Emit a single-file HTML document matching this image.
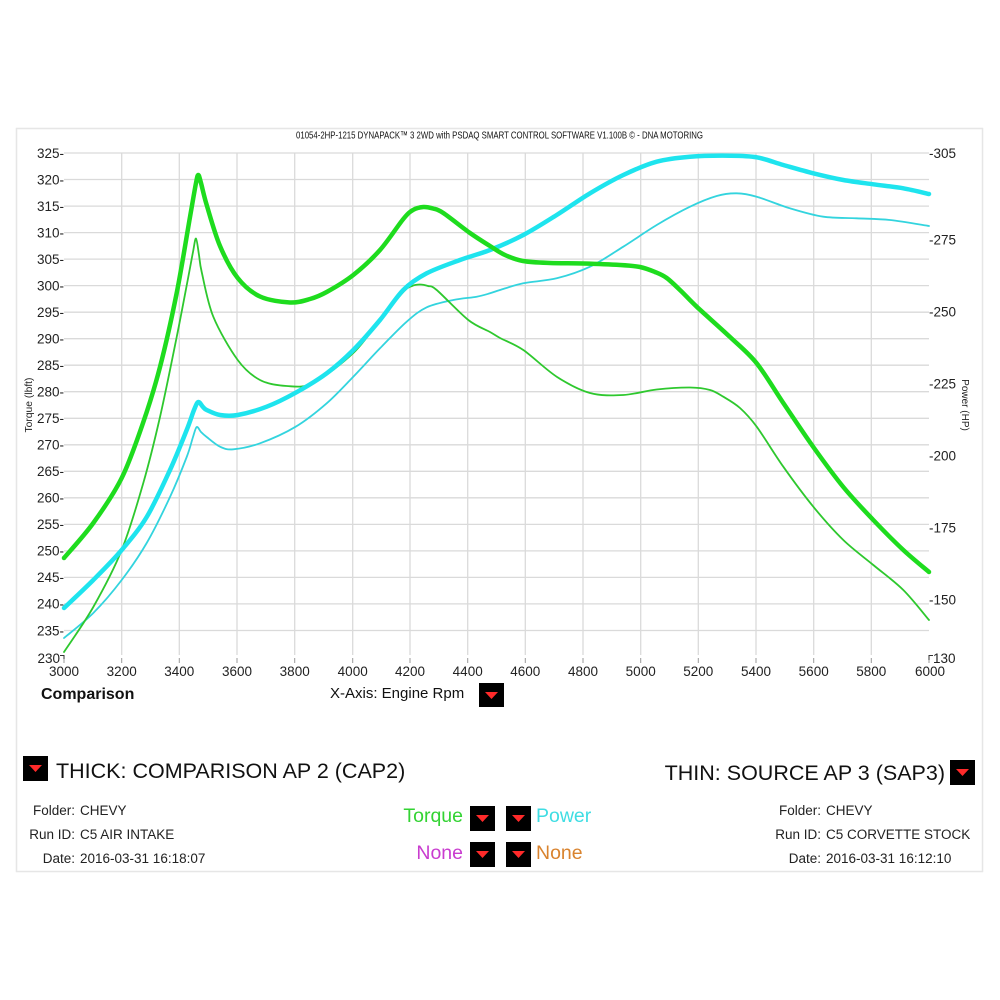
<!DOCTYPE html>
<html>
<head>
<meta charset="utf-8">
<style>
html,body{margin:0;padding:0;background:#fff;}
svg{display:block;}
text{font-family:"Liberation Sans",Arial,sans-serif;}
</style>
</head>
<body>
<svg id="chart" width="1000" height="1000" viewBox="0 0 1000 1000" xmlns="http://www.w3.org/2000/svg">
<rect x="0" y="0" width="1000" height="1000" fill="#fff"/>
<!-- panel border -->
<rect x="16.5" y="128.5" width="966" height="743" fill="none" stroke="#e6e6e6" stroke-width="1.5"/>

<!-- title -->
<text x="296" y="138.5" font-size="10.5" textLength="407" lengthAdjust="spacingAndGlyphs" fill="#111">01054-2HP-1215 DYNAPACK™ 3 2WD with PSDAQ SMART CONTROL SOFTWARE V1.100B © - DNA MOTORING</text>

<!-- grid -->
<g stroke="#dadada" stroke-width="1.3" fill="none">
<line x1="64" y1="153" x2="929" y2="153"/>
<line x1="64" y1="179.5" x2="929" y2="179.5"/>
<line x1="64" y1="206.1" x2="929" y2="206.1"/>
<line x1="64" y1="232.6" x2="929" y2="232.6"/>
<line x1="64" y1="259.1" x2="929" y2="259.1"/>
<line x1="64" y1="285.6" x2="929" y2="285.6"/>
<line x1="64" y1="312.2" x2="929" y2="312.2"/>
<line x1="64" y1="338.7" x2="929" y2="338.7"/>
<line x1="64" y1="365.2" x2="929" y2="365.2"/>
<line x1="64" y1="391.7" x2="929" y2="391.7"/>
<line x1="64" y1="418.3" x2="929" y2="418.3"/>
<line x1="64" y1="444.8" x2="929" y2="444.8"/>
<line x1="64" y1="471.3" x2="929" y2="471.3"/>
<line x1="64" y1="497.8" x2="929" y2="497.8"/>
<line x1="64" y1="524.4" x2="929" y2="524.4"/>
<line x1="64" y1="550.9" x2="929" y2="550.9"/>
<line x1="64" y1="577.4" x2="929" y2="577.4"/>
<line x1="64" y1="603.9" x2="929" y2="603.9"/>
<line x1="64" y1="630.5" x2="929" y2="630.5"/>
<line x1="121.7" y1="153" x2="121.7" y2="655"/>
<line x1="179.3" y1="153" x2="179.3" y2="655"/>
<line x1="237" y1="153" x2="237" y2="655"/>
<line x1="294.7" y1="153" x2="294.7" y2="655"/>
<line x1="352.7" y1="153" x2="352.7" y2="655"/>
<line x1="410" y1="153" x2="410" y2="655"/>
<line x1="467.7" y1="153" x2="467.7" y2="655"/>
<line x1="525.3" y1="153" x2="525.3" y2="655"/>
<line x1="583" y1="153" x2="583" y2="655"/>
<line x1="640.7" y1="153" x2="640.7" y2="655"/>
<line x1="698.3" y1="153" x2="698.3" y2="655"/>
<line x1="756" y1="153" x2="756" y2="655"/>
<line x1="813.7" y1="153" x2="813.7" y2="655"/>
<line x1="871.3" y1="153" x2="871.3" y2="655"/>
</g>
<!-- x ticks -->
<g stroke="#999" stroke-width="1">
<line x1="64" y1="658" x2="64" y2="663"/>
<line x1="121.7" y1="658" x2="121.7" y2="663"/>
<line x1="179.3" y1="658" x2="179.3" y2="663"/>
<line x1="237" y1="658" x2="237" y2="663"/>
<line x1="294.7" y1="658" x2="294.7" y2="663"/>
<line x1="352.7" y1="658" x2="352.7" y2="663"/>
<line x1="410" y1="658" x2="410" y2="663"/>
<line x1="467.7" y1="658" x2="467.7" y2="663"/>
<line x1="525.3" y1="658" x2="525.3" y2="663"/>
<line x1="583" y1="658" x2="583" y2="663"/>
<line x1="640.7" y1="658" x2="640.7" y2="663"/>
<line x1="698.3" y1="658" x2="698.3" y2="663"/>
<line x1="756" y1="658" x2="756" y2="663"/>
<line x1="813.7" y1="658" x2="813.7" y2="663"/>
<line x1="871.3" y1="658" x2="871.3" y2="663"/>
<line x1="929" y1="658" x2="929" y2="663"/>
</g>

<!-- left labels -->
<g font-size="13.5" fill="#222" text-anchor="end">
<text x="64" y="158">325-</text>
<text x="64" y="184.5">320-</text>
<text x="64" y="211">315-</text>
<text x="64" y="237.5">310-</text>
<text x="64" y="264">305-</text>
<text x="64" y="290.5">300-</text>
<text x="64" y="317">295-</text>
<text x="64" y="343.5">290-</text>
<text x="64" y="370">285-</text>
<text x="64" y="396.5">280-</text>
<text x="64" y="423">275-</text>
<text x="64" y="449.5">270-</text>
<text x="64" y="476">265-</text>
<text x="64" y="502.5">260-</text>
<text x="64" y="529">255-</text>
<text x="64" y="555.5">250-</text>
<text x="64" y="582">245-</text>
<text x="64" y="608.5">240-</text>
<text x="64" y="635.5">235-</text>
<text x="60" y="663">230</text>
</g>
<path d="M60,655.5 H64 V659" stroke="#333" stroke-width="1" fill="none"/>
<text transform="translate(32,405) rotate(-90)" font-size="10.3" text-anchor="middle" fill="#222">Torque (lbft)</text>

<!-- right labels -->
<g font-size="13.5" fill="#222">
<text x="929" y="158">-305</text>
<text x="929" y="244.5">-275</text>
<text x="929" y="316.5">-250</text>
<text x="929" y="388.5">-225</text>
<text x="929" y="460.5">-200</text>
<text x="929" y="532.5">-175</text>
<text x="929" y="604.5">-150</text>
<text x="933" y="663">130</text>
</g>
<path d="M929,660 V655.5 H933" stroke="#333" stroke-width="1" fill="none"/>
<text transform="translate(962,405) rotate(90)" font-size="10" text-anchor="middle" fill="#222">Power (HP)</text>

<!-- x labels -->
<g font-size="13.5" fill="#222" text-anchor="middle">
<text x="64" y="676">3000</text>
<text x="121.7" y="676">3200</text>
<text x="179.3" y="676">3400</text>
<text x="237" y="676">3600</text>
<text x="294.7" y="676">3800</text>
<text x="352.7" y="676">4000</text>
<text x="410" y="676">4200</text>
<text x="467.7" y="676">4400</text>
<text x="525.3" y="676">4600</text>
<text x="583" y="676">4800</text>
<text x="640.7" y="676">5000</text>
<text x="698.3" y="676">5200</text>
<text x="756" y="676">5400</text>
<text x="813.7" y="676">5600</text>
<text x="871.3" y="676">5800</text>
<text x="930" y="676">6000</text>
</g>

<!-- curves -->
<g id="curves" fill="none" stroke-linejoin="round" stroke-linecap="round">
<polyline class="crv" stroke="#33d4de" stroke-width="1.8" points="64,638 93.3,613 121.7,580 146.7,543 170,497 186.7,457 193,437 196.7,427 201,432 206.7,437 220,446.7 233.3,449.3 260,443.3 295.7,426.7 326.7,403.3 353.3,376.7 380,348.3 406.7,321.7 426.7,307.3 453.3,300 476.7,296.7 490,293.3 500,290 523.3,283.3 556.7,278.3 590,266.7 623.3,246.7 656.7,225 690,206.7 716.7,196 736.7,193.3 756.7,196.7 790,208.3 823.3,216.7 856.7,218.3 890,220 929,226"/>
<polyline class="crv" stroke="#2ec82e" stroke-width="1.8" points="64,652 93.3,607 121.7,550 143.3,483 160,417 176.7,337 188.3,277 193,252 196,238.5 199,255 201.7,272 213.3,316.7 237.7,360 260,380 286.7,386 313.3,383 353.3,353 380,320 403.3,292 412,286 420,284.5 428,286 436.7,290 468.3,320 490,332 500,338 523.3,350 556.7,376.7 590,393 623.3,395 656.7,389.5 690,387.5 710,390 723.3,396.7 740,408 756.7,426.7 783.3,466.7 813.3,506.7 843.3,540 873.3,565 903.3,590 929,620"/>
<polyline class="crv" stroke="#1ee4ee" stroke-width="4.5" points="64,608 93.3,580 121.7,550 146.7,517 170,470 186.7,430 194,410 198.3,402 203,407 206.7,410 220,415 237.7,415 266.7,406.7 295.7,392.7 326.7,373.3 353.3,350 380,320 403.3,290 426.7,273.3 460,260 490,250 523.3,235 556.7,215 590,193.3 623.3,175 656.7,161.7 690,156.7 730,155.7 756.7,157.3 783.3,165 813.3,173.3 843.3,180 873.3,184.3 903.3,188.3 929,194"/>
<polyline class="crv" stroke="#1edc1e" stroke-width="4.5" points="64,558 93.3,523 121.7,478 143,423 160,367 176.7,293 190,217 196,183 198.3,175 201,183 206.7,205 220,246 237.7,278 260,296.5 290,302.5 310,299 326.7,292 353.3,275 380,250 403.3,219 413,210 423.3,207 433,208.5 443.3,213 470,233 490,246 505,255 523,261 550,263 583.3,263.5 620,265 640,267 655,272 666.7,278 681,291 696.7,306.7 730,337 756.7,363.3 783.3,403 813.3,447 843.3,487 873.3,520 903.3,550 929,572"/>
</g>

<!-- bottom labels -->
<text x="41" y="699" font-size="16" font-weight="bold" fill="#111">Comparison</text>
<text x="330" y="698" font-size="15" fill="#111">X-Axis: Engine Rpm</text>

<!-- dropdown icons -->
<g>
<rect x="479" y="683" width="25" height="24" fill="#000"/>
<polygon points="485,692 498,692 491.5,699" fill="#ff2a2a"/>
<rect x="23" y="756" width="25" height="25" fill="#000"/>
<polygon points="29,765 42,765 35.5,772" fill="#ff2a2a"/>
<rect x="950" y="760" width="25" height="25" fill="#000"/>
<polygon points="956,769 969,769 962.5,776" fill="#ff2a2a"/>
<rect x="470" y="806" width="25" height="25" fill="#000"/>
<polygon points="476,815 489,815 482.5,822" fill="#ff2a2a"/>
<rect x="470" y="842" width="25" height="25" fill="#000"/>
<polygon points="476,851 489,851 482.5,858" fill="#ff2a2a"/>
<rect x="506" y="806" width="25" height="25" fill="#000"/>
<polygon points="512,815 525,815 518.5,822" fill="#ff2a2a"/>
<rect x="506" y="842" width="25" height="25" fill="#000"/>
<polygon points="512,851 525,851 518.5,858" fill="#ff2a2a"/>
</g>

<!-- legend text -->
<text x="56" y="778" font-size="21.5" fill="#111">THICK: COMPARISON AP 2 (CAP2)</text>
<text x="945" y="780" font-size="21.5" fill="#111" text-anchor="end">THIN: SOURCE AP 3 (SAP3)</text>

<g font-size="13.5" fill="#222">
<text x="75" y="815" text-anchor="end">Folder:</text>
<text x="80" y="815">CHEVY</text>
<text x="75" y="839" text-anchor="end">Run ID:</text>
<text x="80" y="839">C5 AIR INTAKE</text>
<text x="75" y="863" text-anchor="end">Date:</text>
<text x="80" y="863">2016-03-31 16:18:07</text>

<text x="821" y="815" text-anchor="end">Folder:</text>
<text x="826" y="815">CHEVY</text>
<text x="821" y="839" text-anchor="end">Run ID:</text>
<text x="826" y="839">C5 CORVETTE STOCK</text>
<text x="821" y="863" text-anchor="end">Date:</text>
<text x="826" y="863">2016-03-31 16:12:10</text>
</g>

<g font-size="19.5">
<text x="463" y="822" text-anchor="end" fill="#33d333">Torque</text>
<text x="463" y="859" text-anchor="end" fill="#c93ccf">None</text>
<text x="536" y="822" fill="#3fdde3">Power</text>
<text x="536" y="859" fill="#d9832e">None</text>
</g>
</svg>
<script>
(function(){
  try{
    var NS="http://www.w3.org/2000/svg";
    var lines=document.querySelectorAll("polyline.crv");
    for(var k=0;k<lines.length;k++){
      var pl=lines[k];
      var raw=pl.getAttribute("points").trim().split(/\s+/);
      var p=[];
      for(var i=0;i<raw.length;i++){var c=raw[i].split(",");p.push([parseFloat(c[0]),parseFloat(c[1])]);}
      var n=p.length;
      var d="M"+p[0][0]+","+p[0][1];
      for(var i=0;i<n-1;i++){
        var p0=p[i>0?i-1:i],p1=p[i],p2=p[i+1],p3=p[i+2<n?i+2:i+1];
        var t=0.16;
        var c1x=p1[0]+(p2[0]-p0[0])*t,c1y=p1[1]+(p2[1]-p0[1])*t;
        var c2x=p2[0]-(p3[0]-p1[0])*t,c2y=p2[1]-(p3[1]-p1[1])*t;
        d+=" C"+c1x.toFixed(2)+","+c1y.toFixed(2)+" "+c2x.toFixed(2)+","+c2y.toFixed(2)+" "+p2[0]+","+p2[1];
      }
      var path=document.createElementNS(NS,"path");
      path.setAttribute("d",d);
      path.setAttribute("stroke",pl.getAttribute("stroke"));
      path.setAttribute("stroke-width",pl.getAttribute("stroke-width"));
      path.setAttribute("fill","none");
      path.setAttribute("stroke-linejoin","round");
      path.setAttribute("stroke-linecap","round");
      pl.parentNode.replaceChild(path,pl);
    }
  }catch(e){}
})();
</script>
</body>
</html>
